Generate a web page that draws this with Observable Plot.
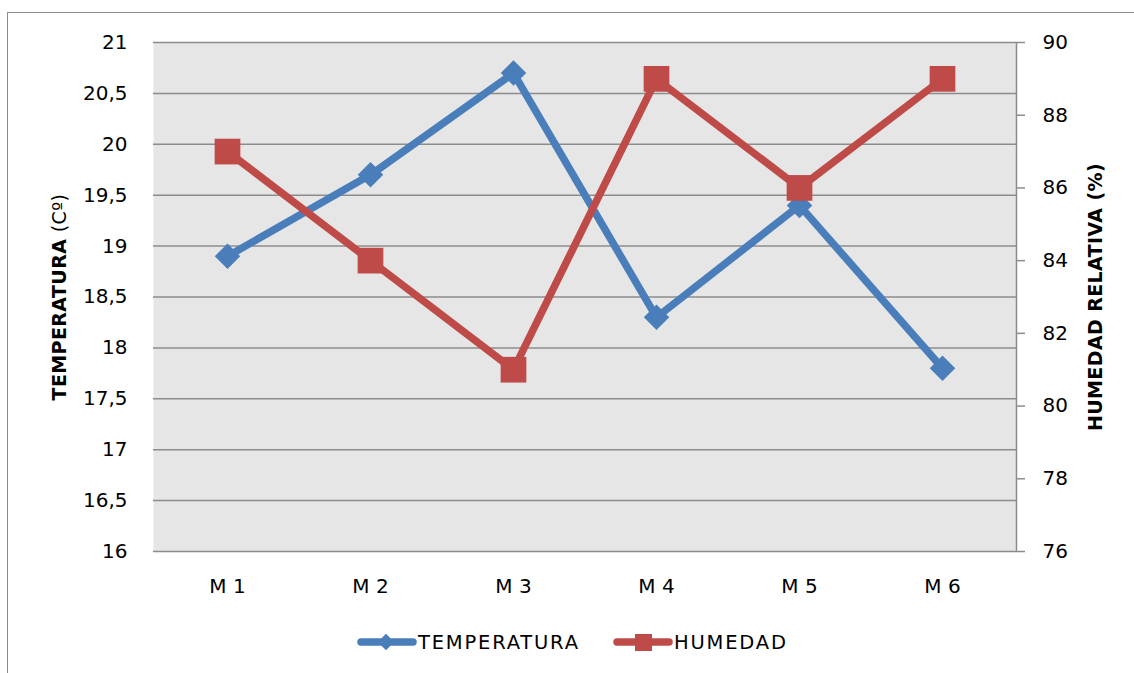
<!DOCTYPE html>
<html><head><meta charset="utf-8">
<script src="https://cdn.jsdelivr.net/npm/d3@7"></script>
<script src="https://cdn.jsdelivr.net/npm/@observablehq/plot@0.6"></script>
<style>
body{margin:0;background:#fff;font-family:"DejaVu Sans",sans-serif;}
#wrap{position:relative;width:1134px;height:673px;overflow:hidden;background:#fff;}
#border{position:absolute;left:7px;top:12px;width:1200px;height:800px;border-top:1.5px solid #8c8c8c;border-left:1.5px solid #8c8c8c;box-sizing:border-box;}
#chart{position:absolute;left:0;top:0;}
.ytitle{position:absolute;transform:translate(-50%,-50%) rotate(-90deg);white-space:nowrap;font-size:19px;color:#000;letter-spacing:0.4px;}
.ytitle b{font-weight:bold;}
#legend{position:absolute;left:0;top:0;width:1134px;height:673px;pointer-events:none;}
</style>
</head><body>
<div id="wrap">
  <div id="border"></div>
  <div id="chart"></div>
  <div class="ytitle" style="left:59px;top:297px;"><b>TEMPERATURA</b> (Cº)</div>
  <div class="ytitle" style="left:1095px;top:297px;"><b>HUMEDAD RELATIVA (%)</b></div>
  <svg id="legend"></svg>
</div>
<script>
const categories = ["M 1", "M 2", "M 3", "M 4", "M 5", "M 6"];
const temperatura = [18.9, 19.7, 20.7, 18.3, 19.4, 17.8];
const humedad = [87, 84, 81, 89, 86, 89];
const tempTicks = [16, 16.5, 17, 17.5, 18, 18.5, 19, 19.5, 20, 20.5, 21];
const humTicks = [76, 78, 80, 82, 84, 86, 88, 90];
const seriesNames = ["TEMPERATURA", "HUMEDAD"];
const seriesColors = ["#4a7ebb", "#be4b48"];

const tDom = [tempTicks[0], tempTicks[tempTicks.length - 1]];
const hDom = [humTicks[0], humTicks[humTicks.length - 1]];
const h2t = h => tDom[0] + (h - hDom[0]) * (tDom[1] - tDom[0]) / (hDom[1] - hDom[0]);
const t2h = t => hDom[0] + (t - tDom[0]) * (hDom[1] - hDom[0]) / (tDom[1] - tDom[0]);
const fmtComma = d => String(d).replace(".", ",");

const tData = categories.map((c, i) => ({cat: c, v: temperatura[i]}));
const hData = categories.map((c, i) => ({cat: c, v: h2t(humedad[i])}));

const grid = "#8c8c8c";
const chart = Plot.plot({
  width: 1134, height: 600,
  marginTop: 42, marginBottom: 49, marginLeft: 153, marginRight: 118,
  style: {fontFamily: "DejaVu Sans", fontSize: "20px", color: "#000", background: "transparent", overflow: "visible"},
  x: {type: "point", domain: categories, padding: 0.5},
  y: {domain: tDom},
  marks: [
    Plot.frame({fill: "#e6e6e6", stroke: null}),
    Plot.ruleY(tempTicks, {stroke: grid, strokeWidth: 1.5}),
    Plot.frame({anchor: "right", stroke: grid, strokeWidth: 1.5}),
    Plot.axisY({anchor: "left", ticks: tempTicks, tickSize: 0, tickPadding: 26, tickFormat: fmtComma, label: null, fill: "#000"}),
    Plot.axisY({anchor: "right", ticks: humTicks.map(h2t), tickSize: 8, tickPadding: 18, stroke: grid, strokeWidth: 1.5,
      tickFormat: t => String(Math.round(t2h(t))), label: null}),
    Plot.axisX({tickSize: 0, tickPadding: 27, label: null}),
    Plot.line(tData, {x: "cat", y: "v", stroke: seriesColors[0], strokeWidth: 7.5}),
    Plot.dot(tData, {x: "cat", y: "v", symbol: "diamond2", r: 11.5, fill: seriesColors[0], stroke: null}),
    Plot.line(hData, {x: "cat", y: "v", stroke: seriesColors[1], strokeWidth: 7.5}),
    Plot.dot(hData, {x: "cat", y: "v", symbol: "square", r: 14.5, fill: seriesColors[1], stroke: null})
  ]
});
document.getElementById("chart").appendChild(chart);

// legend
const lg = d3.select("#legend");
const items = [{x: 357, sym: "diamond"}, {x: 613, sym: "square"}];
items.forEach((it, i) => {
  const g = lg.append("g");
  g.append("line").attr("x1", it.x + 4).attr("x2", it.x + 56).attr("y1", 642).attr("y2", 642)
    .attr("stroke", seriesColors[i]).attr("stroke-width", 7.5).attr("stroke-linecap", "round");
  if (it.sym === "diamond") {
    g.append("path").attr("d", d3.symbol(d3.symbolDiamond2, 170)()).attr("transform", `translate(${it.x + 29},642)`).attr("fill", seriesColors[i]);
  } else {
    g.append("rect").attr("x", it.x + 22).attr("y", 634).attr("width", 17).attr("height", 17).attr("fill", seriesColors[i]);
  }
  g.append("text").attr("x", it.x + 61).attr("y", 649).text(seriesNames[i])
    .attr("font-family", "DejaVu Sans").attr("font-size", 19.5).attr("letter-spacing", 1.8).attr("fill", "#000");
});
</script>
</body></html>
